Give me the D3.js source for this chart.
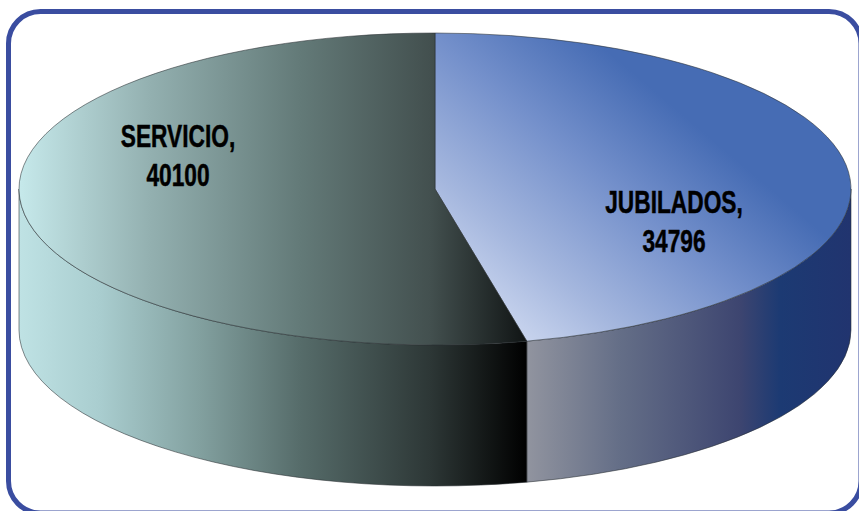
<!DOCTYPE html>
<html>
<head>
<meta charset="utf-8">
<script src="https://cdn.jsdelivr.net/npm/d3@7"></script>
<style>
html,body{margin:0;padding:0;background:#fff;overflow:hidden;}
svg{display:block;}
text{font-family:"Liberation Sans",Arial,sans-serif;font-weight:bold;fill:#000;stroke:#000;stroke-width:.5px;}
</style>
</head>
<body>
<svg id="chart" width="859" height="511"></svg>
<script>
const categories=["JUBILADOS","SERVICIO"];
const values=[34796,40100];

const svg=d3.select("#chart");
const defs=svg.append("defs");

// pie geometry, squashed ellipse plus a wall underneath
const cx=435,cy=189,rx=416,ry=156,depth=141;
const pt=(a,dy=0)=>[cx+rx*Math.sin(a),cy-ry*Math.cos(a)+dy];

const pie=d3.pie().sort(null).value(d=>d);
const slices=pie(values);

function grad(id,stops,x1,y1,x2,y2){
    const g=defs.append("linearGradient")
        .attr("id",id)
        .attr("gradientUnits","userSpaceOnUse")
        .attr("x1",x1).attr("y1",y1).attr("x2",x2).attr("y2",y2);
    g.selectAll("stop").data(stops).enter().append("stop")
        .attr("offset",d=>d[0])
        .attr("stop-color",d=>d[1]);
}

const cornerX=pt(slices[0].endAngle)[0];
const sx=x=>(x-19)/(cornerX-19);   // offset along the servicio gradient
const jx=x=>(x-cornerX)/(851-cornerX);

grad("topS",[[0,"#c6e9eb"],[sx(150),"#93b0b0"],[sx(300),"#637a78"],[sx(430),"#43504f"],[1,"#101414"]],19,0,cornerX,0);
grad("sideS",[[0,"#bfe2e4"],[sx(100),"#a9cdcf"],[sx(200),"#82a09f"],[sx(300),"#566c6a"],[sx(430),"#2d3736"],[1,"#000"]],19,0,cornerX,0);
grad("topJ",[[0,"#d2dcf2"],[.3,"#a5b7de"],[.66,"#7490cb"],[1,"#466cb4"]],505,350,695,125);
grad("sideJ",[[0,"#91949f"],[jx(620),"#646e87"],[jx(740),"#3d4570"],[jx(780),"#1c3a73"],[1,"#21346f"]],cornerX,0,851,0);

function wedge(s){
    const [x0,y0]=pt(s.startAngle),[x1,y1]=pt(s.endAngle);
    const large=s.endAngle-s.startAngle>Math.PI?1:0;
    return `M${cx},${cy}L${x0},${y0}A${rx},${ry} 0 ${large} 1 ${x1},${y1}Z`;
}
// wall only exists on the front half of the ellipse
function wall(s){
    const a0=Math.max(s.startAngle,Math.PI/2),a1=Math.min(s.endAngle,Math.PI*1.5);
    const [x0,y0]=pt(a0),[x1,y1]=pt(a1);
    const [x2,y2]=pt(a1,depth),[x3,y3]=pt(a0,depth);
    return `M${x0},${y0}A${rx},${ry} 0 0 1 ${x1},${y1}L${x2},${y2}A${rx},${ry} 0 0 0 ${x3},${y3}Z`;
}

const keys=["J","S"];
const g=svg.append("g");

g.selectAll("path.wall").data(slices).enter().append("path")
    .attr("class","wall")
    .attr("d",wall)
    .attr("fill",(d,i)=>`url(#side${keys[i]})`)
    .attr("stroke","#2a2f33").attr("stroke-width",.7).attr("stroke-opacity",.8);

g.selectAll("path.top").data(slices).enter().append("path")
    .attr("class","top")
    .attr("d",wedge)
    .attr("fill",(d,i)=>`url(#top${keys[i]})`)
    .attr("stroke","#2a2f33").attr("stroke-width",.7).attr("stroke-opacity",.8);

// labels
const labelAt=[[674,213],[178,147]];
const fmt=d3.format("d");
const labels=svg.append("g").selectAll("g").data(slices).enter().append("g")
    .attr("transform",(d,i)=>`translate(${labelAt[i][0]},${labelAt[i][1]}) scale(.71,1)`);
labels.append("text").attr("text-anchor","middle").attr("font-size",32)
    .text((d,i)=>categories[i]+",");
labels.append("text").attr("text-anchor","middle").attr("font-size",32).attr("y",39.5)
    .text(d=>fmt(d.value));

// frame runs slightly off the right and bottom of the picture
svg.append("rect")
    .attr("x",8.5).attr("y",11.5).attr("width",852.5).attr("height",501.5)
    .attr("rx",32).attr("ry",32)
    .attr("fill","none").attr("stroke","#3a4da0").attr("stroke-width",5);
</script>
</body>
</html>
